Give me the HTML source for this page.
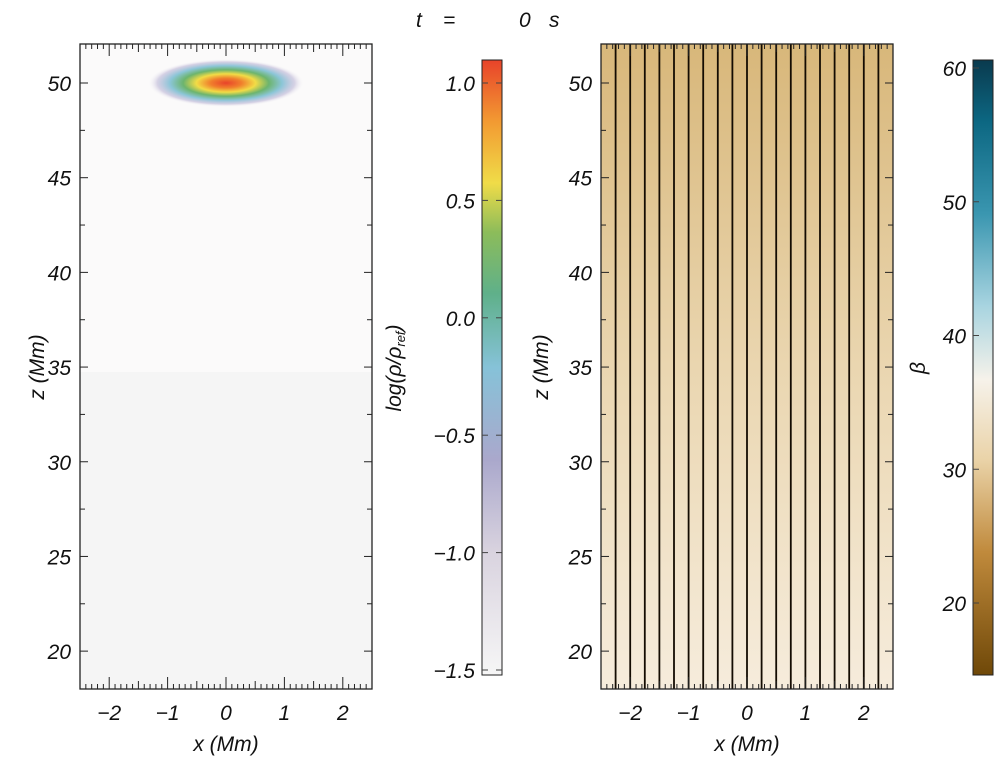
<!DOCTYPE html>
<html><head><meta charset="utf-8"><style>
body{margin:0;background:#fff}
svg text{font-family:"Liberation Sans",sans-serif;font-style:italic;font-size:21px;fill:#111}
</style></head><body>
<svg width="1002" height="767" xmlns="http://www.w3.org/2000/svg">
<defs>
<radialGradient id="blob" cx="0.5" cy="0.5" r="0.5">
<stop offset="0" stop-color="#e8432a"/>
<stop offset="0.2" stop-color="#f07f2c"/>
<stop offset="0.38" stop-color="#f2dc46"/>
<stop offset="0.55" stop-color="#6cb46e"/>
<stop offset="0.72" stop-color="#8cc6d8"/>
<stop offset="0.88" stop-color="#bcb6d6" stop-opacity="0.6"/>
<stop offset="1" stop-color="#fbfafa" stop-opacity="0"/>
</radialGradient>
<linearGradient id="cb1" x1="0" y1="1" x2="0" y2="0">
<stop offset="0" stop-color="#f6f6f6"/>
<stop offset="0.2" stop-color="#d9d3df"/>
<stop offset="0.35" stop-color="#aaa8cc"/>
<stop offset="0.5" stop-color="#86c2d8"/>
<stop offset="0.62" stop-color="#5fb08a"/>
<stop offset="0.72" stop-color="#8cbc5a"/>
<stop offset="0.8" stop-color="#f0dc48"/>
<stop offset="0.9" stop-color="#f29a32"/>
<stop offset="1" stop-color="#e8432a"/>
</linearGradient>
<linearGradient id="cb2" x1="0" y1="1" x2="0" y2="0">
<stop offset="0" stop-color="#6f4808"/>
<stop offset="0.2" stop-color="#c08a3c"/>
<stop offset="0.35" stop-color="#ead3a8"/>
<stop offset="0.48" stop-color="#f6f2ea"/>
<stop offset="0.6" stop-color="#a8d4e0"/>
<stop offset="0.75" stop-color="#3a96b0"/>
<stop offset="0.9" stop-color="#0c6782"/>
<stop offset="1" stop-color="#0a3a4e"/>
</linearGradient>
<linearGradient id="bgr" x1="0" y1="0" x2="0" y2="1">
<stop offset="0" stop-color="#d8b77a"/>
<stop offset="0.5" stop-color="#ead6b0"/>
<stop offset="1" stop-color="#f6ecdc"/>
</linearGradient>
</defs>
<g>
<text x="416" y="27">t</text><text x="443" y="27">=</text><text x="519" y="27">0</text><text x="549" y="27">s</text>
</g>
<g id="left">
<rect x="80" y="44" width="292" height="328" fill="#fbfafa"/>
<rect x="80" y="372" width="292" height="317" fill="#f5f5f5"/>
<ellipse cx="226" cy="83" rx="78" ry="24" fill="url(#blob)"/>
</g>
<g id="right">
<rect x="601" y="44" width="292" height="645" fill="url(#bgr)"/>
<g id="flines"></g>
</g>
<rect x="482" y="60" width="20" height="615" fill="url(#cb1)" stroke="#222"/>
<rect x="973" y="60" width="20" height="615" fill="url(#cb2)" stroke="#222"/>
<g id="axes"></g>
<text transform="translate(401,368) rotate(-90)" text-anchor="middle">log(ρ/ρ<tspan font-size="13" dy="4">ref</tspan><tspan dy="-4">)</tspan></text>
<text transform="translate(925,368) rotate(-90)" text-anchor="middle">β</text>
<text transform="translate(44,367) rotate(-90)" text-anchor="middle">z (Mm)</text>
<text transform="translate(548,367) rotate(-90)" text-anchor="middle">z (Mm)</text>
<text x="226" y="751" text-anchor="middle">x (Mm)</text>
<text x="747" y="751" text-anchor="middle">x (Mm)</text>
</svg>
<script>
const xTicks=[-2,-1,0,1,2];
const zTicks=[20,25,30,35,40,45,50];
const cb1Ticks=[-1.5,-1.0,-0.5,0.0,0.5,1.0];
const cb2Ticks=[20,30,40,50,60];
const fieldLineX=[-2.25,-2.0,-1.75,-1.5,-1.25,-1.0,-0.75,-0.5,-0.25,0,0.25,0.5,0.75,1.0,1.25,1.5,1.75,2.0,2.25];
const NS="http://www.w3.org/2000/svg";
const Y0=44,Y1=689,ZMIN=18,ZMAX=52.06;
const zy=z=>Y1-(z-ZMIN)/(ZMAX-ZMIN)*(Y1-Y0);
const cb1y=v=>83+(1.0-v)/2.5*587;
const cb2y=v=>68+(60-v)/40*535;
function mk(tag,a,p){const e=document.createElementNS(NS,tag);for(const k in a)e.setAttribute(k,a[k]);p.appendChild(e);return e;}
const ax=document.getElementById('axes');
const fl=document.getElementById('flines');
const X0s=[80,601];
X0s.forEach((X0,pi)=>{
  const xx=x=>X0+(x+2.5)/5*292;
  if(pi===1){
    fieldLineX.forEach(v=>{
      const l=mk('line',{x1:xx(v),x2:xx(v),y1:Y0,y2:Y1,stroke:'#140c02','stroke-width':1.8},fl);
      
      
    });
  }
  const fr=mk('rect',{x:X0,y:Y0,width:292,height:645,fill:'none',stroke:'#222','stroke-width':1.3},ax);
  
  
  for(let v=-2.4;v<=2.41;v+=0.1){
    const major=Math.abs(v-Math.round(v))<0.01, half=Math.abs(v*2-Math.round(v*2))<0.01;
    const L=major?12:(half?8:5);
    mk('line',{x1:xx(v),x2:xx(v),y1:Y1,y2:Y1-L,stroke:'#222'},ax);
    mk('line',{x1:xx(v),x2:xx(v),y1:Y0,y2:Y0+L,stroke:'#222'},ax);
  }
  xTicks.forEach(v=>{
    const t=mk('text',{x:xx(v),y:720,'text-anchor':'middle'},ax);
    t.textContent=v<0?'\u2212'+(-v):String(v);
    
    
  });
  for(let z=20;z<=52;z+=2.5){
    const major=z%5===0;const L=major?8:5;
    mk('line',{x1:X0,x2:X0+L,y1:zy(z),y2:zy(z),stroke:'#222'},ax);
    mk('line',{x1:X0+292,x2:X0+292-L,y1:zy(z),y2:zy(z),stroke:'#222'},ax);
  }
  zTicks.forEach(v=>{
    const t=mk('text',{x:X0-9,y:zy(v)+8,'text-anchor':'end'},ax);
    t.textContent=String(v);
    
    
  });
});
cb1Ticks.forEach(v=>{
  mk('line',{x1:482,x2:488,y1:cb1y(v),y2:cb1y(v),stroke:'#444'},ax);
  mk('line',{x1:502,x2:496,y1:cb1y(v),y2:cb1y(v),stroke:'#444'},ax);
  const t=mk('text',{x:475,y:cb1y(v)+8,'text-anchor':'end'},ax);
  t.textContent=(v<0?'\u2212':'')+Math.abs(v).toFixed(1);
  
  
});
cb2Ticks.forEach(v=>{
  mk('line',{x1:973,x2:979,y1:cb2y(v),y2:cb2y(v),stroke:'#444'},ax);
  const t=mk('text',{x:966,y:cb2y(v)+8,'text-anchor':'end'},ax);
  t.textContent=String(v);
  
  
});
</script>
</body></html>
